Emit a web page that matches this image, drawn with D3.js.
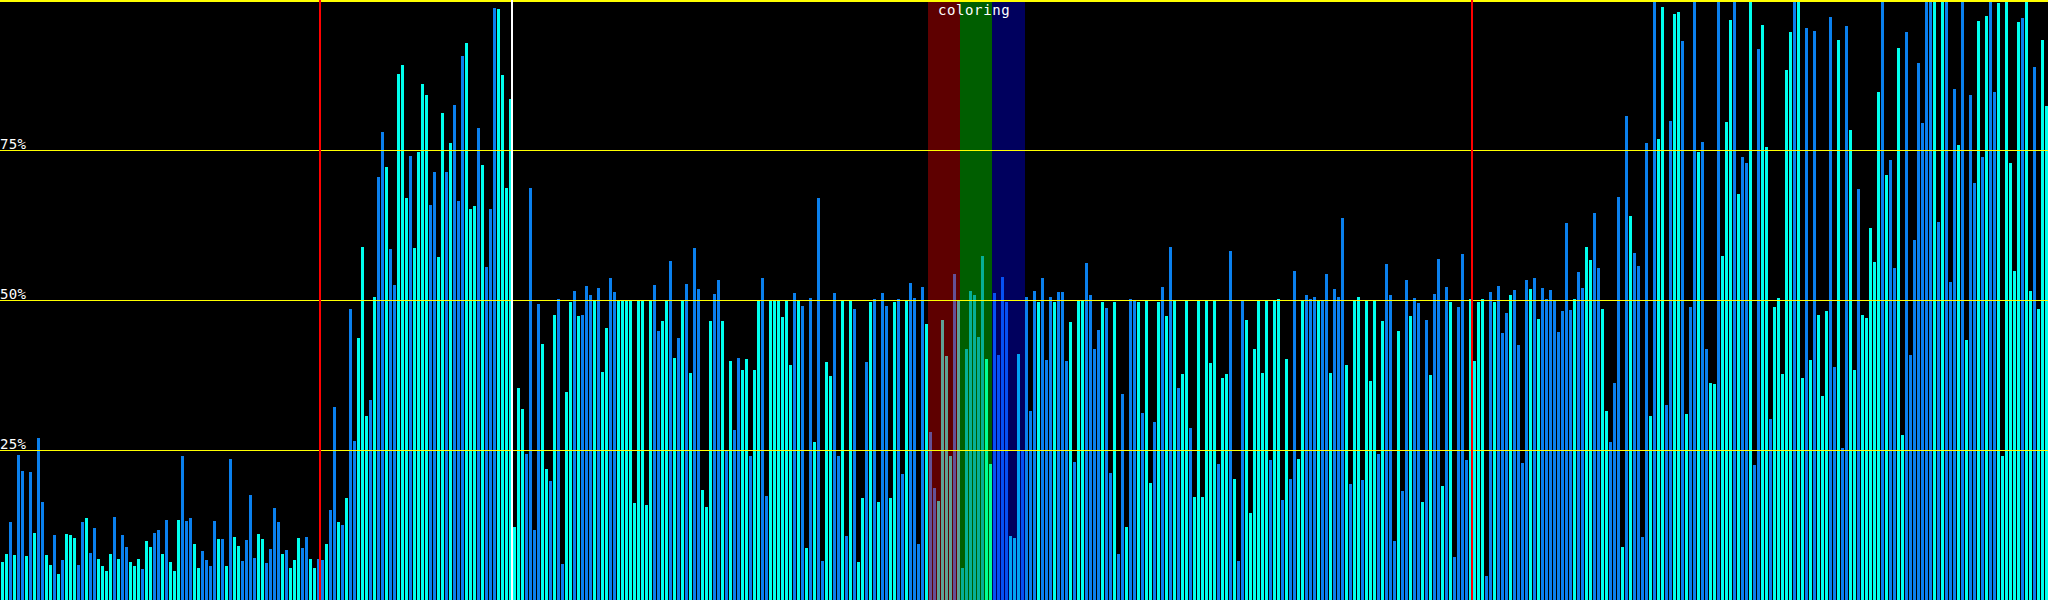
<!DOCTYPE html>
<html><head><meta charset="utf-8">
<script src="https://cdn.jsdelivr.net/npm/d3@7"></script>
<style>html,body{margin:0;padding:0;background:#000;overflow:hidden}svg{display:block}</style>
</head><body><svg id="chart" width="2048" height="600"></svg>
<script>
// ---- data ----
const values = [
6.3,7.7,13.0,7.5,24.2,21.5,7.3,21.4,11.2,27.0,
16.3,7.5,5.9,10.8,4.3,6.7,11.0,10.8,10.3,5.8,
13.0,13.6,7.8,12.0,6.8,5.7,4.8,7.7,13.8,6.8,
10.8,8.9,6.3,5.7,6.8,5.2,9.8,8.9,11.2,11.7,
7.7,13.3,6.3,4.8,13.3,24.0,13.1,13.6,9.3,5.4,
8.2,6.7,5.7,13.1,10.1,10.1,5.7,23.5,10.5,9.0,
6.5,10.0,17.5,7.0,11.0,10.1,6.2,8.5,15.3,13.0,
7.7,8.4,5.4,6.7,10.3,8.7,10.5,6.8,5.4,6.8,
6.7,9.3,15.0,32.1,13.0,12.5,17.0,48.5,26.5,43.7,
58.9,30.7,33.4,50.5,70.5,78.0,72.2,58.5,52.5,87.7,
89.2,67.0,74.0,58.7,74.7,86.0,84.2,65.8,71.4,57.1,
81.2,71.4,76.1,82.5,66.5,90.7,92.9,65.2,65.7,78.6,
72.5,55.5,65.2,98.7,98.5,87.5,68.7,83.5,12.2,35.3,
31.8,24.4,68.7,11.7,49.4,42.7,21.8,19.8,47.5,50.2,
6.0,34.7,49.7,51.5,47.3,47.5,52.4,50.8,50,52.0,
38.0,45.3,53.6,51.3,50,50,50,50,16.1,50,
50,15.8,50,52.5,44.8,46.5,50,56.5,40.3,43.7,
50,52.7,37.8,58.7,51.8,18.3,15.5,46.5,51.0,53.3,
46.5,25.0,39.9,28.3,40.3,38.3,40.2,24.0,38.3,50,
53.6,17.3,50,50,50,47.2,50,39.2,51.1,50,
49.0,8.7,50.3,26.3,67.0,6.5,39.7,37.3,51.1,24.0,
50,10.7,50,48.5,6.3,17.0,39.7,49.7,50.2,16.3,
51.1,49.0,17.0,49.7,50.2,21.0,50,52.8,50.3,9.3,
52.2,46.0,28.0,18.7,16.5,46.7,40.7,24.0,54.3,50,
5.3,41.8,51.5,50.8,43.8,57.3,40.2,22.7,51.2,40.8,
53.8,49.7,10.7,10.3,41.0,24.9,50.5,31.5,51.5,49.7,
53.6,40.0,50.5,49.7,51.3,51.3,39.9,46.4,23.0,50,
50,56.2,50.8,41.8,45.0,49.7,48.7,21.2,49.7,7.7,
34.3,12.2,50.2,50,49.7,31.2,50,19.5,29.7,49.7,
52.2,47.3,58.9,50,35.3,37.7,50,28.6,17.2,50,
17.2,50,39.5,50,22.6,37.0,37.7,58.2,20.2,6.5,
50,46.7,14.5,41.8,50,37.8,50,23.3,50,50.2,
16.6,40.2,20.2,54.8,23.5,50,50.8,50.2,50.5,50,
50,54.3,37.8,51.8,50.5,63.6,39.2,19.3,50,50.5,
20.0,50,36.5,50,24.4,46.5,56.0,50.8,9.8,44.8,
18.2,53.3,47.3,50.3,49.5,16.3,46.7,37.5,51.0,56.8,
19.0,52.2,49.7,7.1,48.9,57.7,23.3,50.2,39.9,49.7,
50.2,4.0,51.3,49.7,52.4,44.5,47.8,50.8,51.7,42.5,
22.8,53.3,51.8,53.6,46.8,52.0,50.2,51.7,50,44.6,
48.2,62.8,48.3,50.2,54.7,52.0,58.9,56.7,64.5,55.4,
48.5,31.5,26.3,36.2,67.2,8.9,80.7,64.0,57.8,55.7,
10.5,76.1,30.7,100,76.9,98.9,32.5,79.8,97.6,98.0,
93.2,31.0,48.9,100,74.7,76.3,41.8,36.2,36.0,100,
57.3,79.7,96.7,100,67.7,73.9,72.8,100,22.5,91.8,
95.9,75.5,30.2,48.9,50.3,37.7,88.3,94.6,100,100,
37.0,95.3,40.0,94.8,47.5,34.0,48.2,97.2,38.8,93.3,
25.3,95.7,78.3,38.3,68.5,47.5,47.0,62.0,56.3,84.7,
100,70.9,73.3,55.4,92.0,27.5,94.6,40.8,60.0,89.5,
79.5,100,100,100,63.0,100,100,53.0,85.1,75.8,
100,43.3,84.2,69.5,96.5,73.9,97.3,100,84.7,99.5,
24.0,100,72.8,54.8,96.4,97.0,100,51.5,88.8,48.5,
93.3,82.3
];
// series group of each bar: 0 = series A, 1 = series B
const kinds = [
1,1,0,1,0,0,1,0,1,0,
0,1,1,0,1,0,1,1,1,0,
0,1,0,0,1,1,1,1,0,1,
0,0,1,1,1,0,1,1,0,0,
1,0,1,1,1,0,0,0,1,1,
0,0,0,0,1,0,1,0,1,1,
0,0,0,0,1,1,0,0,0,0,
1,0,1,1,1,0,0,1,1,0,
0,1,0,0,1,0,1,0,0,1,
1,1,0,1,0,0,1,0,0,1,
1,1,0,1,1,1,1,0,0,1,
1,0,1,0,0,0,1,1,1,0,
1,0,0,0,1,1,1,1,1,1,
1,0,0,0,0,1,1,0,1,0,
0,1,1,0,1,0,0,0,1,0,
1,1,0,0,1,1,1,1,1,1,
1,1,1,0,0,1,1,0,1,0,
1,0,1,0,0,1,1,1,0,0,
1,0,1,0,0,1,1,0,1,1,
0,0,1,1,1,1,1,1,0,1,
0,1,0,1,0,0,1,1,0,0,
1,0,1,0,1,1,0,1,0,1,
0,0,1,1,0,0,1,0,0,0,
0,1,0,0,1,1,1,1,0,1,
0,0,0,0,0,0,1,1,0,0,
0,0,1,1,1,0,0,0,0,1,
0,0,0,1,0,0,0,1,0,1,
1,0,0,0,0,1,0,0,1,0,
0,1,0,0,1,0,1,1,0,1,
0,1,0,1,0,1,1,0,1,1,
1,1,1,1,0,1,1,0,1,0,
0,1,1,1,1,1,1,0,1,1,
0,1,0,0,1,1,0,0,0,1,
0,0,1,0,0,0,1,0,1,1,
0,1,1,1,0,1,0,0,0,1,
0,0,1,0,0,1,0,1,0,0,
1,0,1,0,0,0,0,1,1,1,
1,0,0,1,0,0,0,1,0,0,
0,0,1,0,1,0,0,0,0,0,
0,0,0,1,0,0,1,1,0,0,
1,1,0,0,0,1,0,1,0,0,
0,0,1,0,1,1,0,0,1,1,
0,1,0,0,1,0,0,1,1,0,
1,1,1,0,1,0,0,1,0,0,
1,1,0,1,1,1,1,1,0,1,
1,0,1,0,1,1,1,0,0,1,
0,0,1,1,0,1,1,1,1,1,
0,1,0,0,1,1,0,0,0,0,
0,0,0,1,0,1,0,0,0,1,
0,1,0,0,1,0,1,0,0,1,
1,1,1,1,1,0,1,1,0,1,
1,1
];
const gridTicks = [25, 50, 75, 100];
const tickLabels = ["25%", "50%", "75%", ""];
const markerAt = [80, 128, 368];          // bar index where a vertical marker sits
const markerType = ["limit", "current", "limit"];
const bandStart = [232, 240, 248];        // first bar of each highlight band
const bandLength = 8;
const bandChannel = ["r", "g", "b"];
const bandTitle = "coloring";

// ---- drawing ----
const W = 2048, H = 600;
const svg = d3.select("#chart").attr("shape-rendering", "crispEdges");
svg.append("rect").attr("width", W).attr("height", H).attr("fill", "#000");

const idx = d3.range(values.length);
const x = d3.scaleBand().domain(idx).range([0, W])
  .paddingInner(0.25).paddingOuter(0.125).align(1);
const y = d3.scaleLinear().domain([0, 100]).range([H, 0]);
const kindColor = d3.scaleOrdinal().domain([0, 1]).range(["#0a80ee", "#00ffee"]);
const markerColor = d3.scaleOrdinal().domain(["limit", "current"]).range(["#ff0000", "#ffffff"]);
const bandColor = d3.scaleOrdinal().domain(["r", "g", "b"]).range(["#ff0000", "#00ff00", "#0000ff"]);

svg.append("g").selectAll("rect").data(idx).join("rect")
  .attr("x", i => x(i))
  .attr("y", i => y(values[i]))
  .attr("width", x.bandwidth())
  .attr("height", i => H - y(values[i]))
  .attr("fill", i => kindColor(kinds[i]));

const step = x.step();
svg.append("g").selectAll("rect").data(bandStart).join("rect")
  .attr("x", s => x(s) - 1)
  .attr("y", 0)
  .attr("width", (s, j) => bandLength * step + (j === bandStart.length - 1 ? 1 : 0))
  .attr("height", H)
  .attr("fill", (s, j) => bandColor(bandChannel[j]))
  .attr("fill-opacity", 0.37);

svg.append("g").selectAll("rect").data(gridTicks).join("rect")
  .attr("x", 0).attr("width", W)
  .attr("y", t => y(t))
  .attr("height", t => t === 100 ? 2 : 1)
  .attr("fill", "#ffff00");

svg.append("g").selectAll("rect").data(markerAt).join("rect")
  .attr("x", m => x(m) - 2).attr("width", 2)
  .attr("y", 0).attr("height", H)
  .attr("fill", (m, j) => markerColor(markerType[j]));

svg.append("g").selectAll("text").data(gridTicks).join("text")
  .attr("x", 0).attr("y", t => y(t) - 1)
  .attr("fill", "#fff")
  .attr("font-family", "DejaVu Sans Mono, monospace")
  .attr("font-size", 14).attr("letter-spacing", 0.3)
  .text((t, j) => tickLabels[j]);

svg.append("text")
  .attr("x", x(bandStart[0]) + 9).attr("y", 15)
  .attr("fill", "#fff")
  .attr("font-family", "DejaVu Sans Mono, monospace")
  .attr("font-size", 14).attr("letter-spacing", 0.6)
  .text(bandTitle);
</script></body></html>
